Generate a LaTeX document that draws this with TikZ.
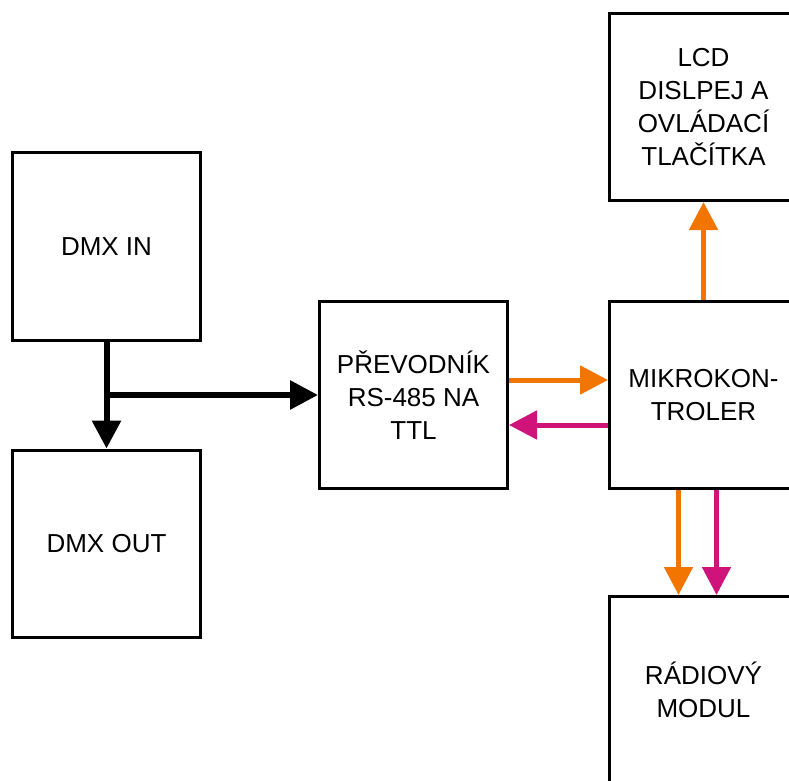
\documentclass[tikz,border=0pt]{standalone}
\usepackage{fontspec}
\setmainfont{Liberation Sans}
\usetikzlibrary{arrows.meta,positioning}
\definecolor{sigorange}{RGB}{242,117,0}
\definecolor{sigmagenta}{RGB}{208,19,122}

\begin{document}
\begin{tikzpicture}[
  x=0.75pt, y=-0.75pt,
  font=\fontsize{19.5pt}{24.75pt}\selectfont,
  blok/.style={draw, line width=2.25pt, align=center, minimum width=141pt, minimum height=140.25pt, inner sep=0pt},
  barr/.style={-{Triangle[length=21pt,width=21pt]}, line width=4.5pt},
  oarr/.style={-{Triangle[length=21pt,width=21pt]}, line width=3.75pt, sigorange},
  marr/.style={-{Triangle[length=21pt,width=21pt]}, line width=3.75pt, sigmagenta}
]
\useasboundingbox (0,0) rectangle (789,781);
\node[blok] (dmxin) at (106.5,246.5) {DMX IN};
\node[blok, below=80.25pt of dmxin] (dmxout) {DMX OUT};
\node[blok] (prev) at (413.5,395) {PŘEVODNÍK\\RS-485 NA\\TTL};
\node[blok, right=74.25pt of prev] (mcu) {MIKROKON-\\TROLER};
\node[blok, above=73.5pt of mcu] (lcd) {LCD\\DISLPEJ A\\OVLÁDACÍ\\TLAČÍTKA};
\node[blok, below=78.75pt of mcu] (radio) {RÁDIOVÝ\\MODUL};
\draw[barr] (dmxin.south) -- (dmxout.north);
\draw[barr] (dmxin.south |- prev.west) -- (prev.west);
\draw[oarr] ([yshift=11.25pt]prev.east) -- ([yshift=11.25pt]mcu.west);
\draw[marr] ([yshift=-22.5pt]mcu.west) -- ([yshift=-22.5pt]prev.east);
\draw[oarr] (mcu.north) -- (lcd.south);
\draw[oarr] ([xshift=-18.75pt]mcu.south) -- ([xshift=-18.75pt]radio.north);
\draw[marr] ([xshift=9.75pt]mcu.south) -- ([xshift=9.75pt]radio.north);
\end{tikzpicture}
\end{document}
